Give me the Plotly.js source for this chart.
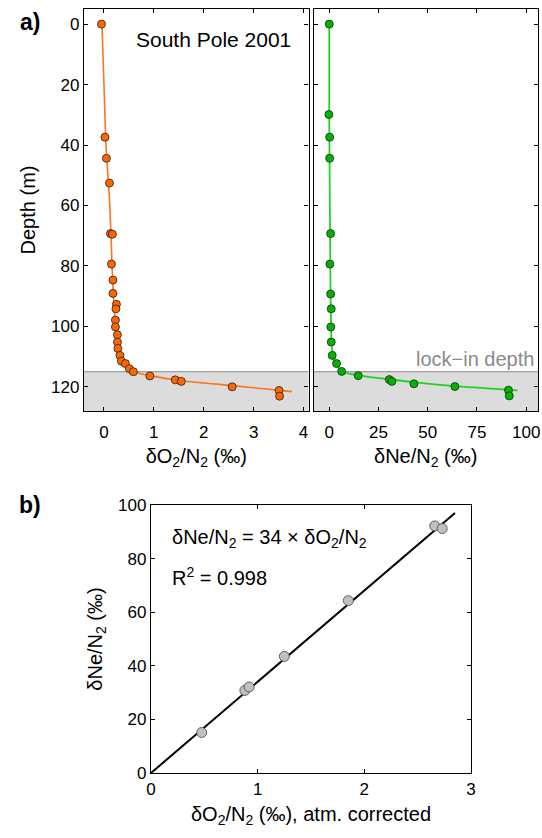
<!DOCTYPE html>
<html>
<head>
<meta charset="utf-8">
<script src="https://cdn.plot.ly/plotly-3.0.1.min.js"></script>
<style>html,body{margin:0;padding:0;background:#fff;}#chart{width:542px;height:838px;}</style>
</head>
<body>
<div id="chart"></div>
<script>
// ---- Panel a) left: dO2/N2 vs depth ----
const depthO2 = [0, 37.4, 44.4, 52.6, 69.3, 69.5, 79.4, 84.7, 89.1, 92.7, 94.2, 97.9, 100.2, 102.8, 105.2, 107.3, 109.6, 111.5, 112.3, 114.0, 115.0, 116.4, 117.7, 118.2, 120.0, 121.2, 123.1];
const dO2N2 = [-0.05, 0.02, 0.05, 0.11, 0.13, 0.17, 0.15, 0.18, 0.18, 0.25, 0.24, 0.23, 0.23, 0.27, 0.27, 0.28, 0.32, 0.35, 0.43, 0.51, 0.59, 0.92, 1.43, 1.55, 2.57, 3.51, 3.52];
// model curve
const o2CurveX = [-0.04, 0.0, 0.04, 0.08, 0.11, 0.14, 0.16, 0.19, 0.23, 0.26, 0.32, 0.42, 0.52, 0.63, 0.92, 1.5, 2.57, 3.77];
const o2CurveD = [0, 20, 40, 50, 58, 69, 79, 90, 100, 105, 110, 112.5, 114, 115.2, 116.3, 117.9, 119.6, 121.6];

// ---- Panel a) right: dNe/N2 vs depth ----
const depthNe = [0, 29.9, 37.4, 44.4, 69.3, 79.4, 89.3, 94.2, 100.2, 105.2, 109.6, 112.3, 114.9, 116.3, 117.6, 118.2, 119.0, 119.9, 121.1, 123.0];
const dNeN2 = [0, -0.2, 0.2, 0.2, 0.7, 0.3, 0.7, 1.0, 0.8, 1.0, 1.5, 3.7, 6.3, 14.7, 30.5, 31.8, 43.0, 63.8, 91.0, 91.4];
const neCurveX = [0, 0, 0.3, 0.6, 0.9, 1.5, 3.5, 6.5, 15, 30, 45, 64, 95.6];
const neCurveD = [0, 30, 60, 85, 100, 108, 112.3, 114.9, 116.2, 117.5, 118.6, 119.8, 121.2];

const lockInDepth = 115;
const depthTicks = [0, 20, 40, 60, 80, 100, 120];
const o2Ticks = [0, 1, 2, 3, 4];
const neTicks = [0, 25, 50, 75, 100];

// ---- Panel b) ----
const o2Corr = [0.475, 0.88, 0.92, 1.25, 1.85, 2.66, 2.73];
const neB = [15.1, 30.8, 32.1, 43.5, 64.3, 92.2, 91.2];
const fitX = [0, 2.85];
const fitY = [0, 97];
const bXTicks = [0, 1, 2, 3];
const bYTicks = [0, 20, 40, 60, 80, 100];

const FONT = 'Liberation Sans, Arial, Helvetica, sans-serif';
const orange = '#ff6600', orangeLine = '#ff7420';
const green = '#00b400', greenLine = '#22d422';

const traces = [
  {x: o2CurveX, y: o2CurveD, xaxis: 'x', yaxis: 'y', mode: 'lines', line: {color: orangeLine, width: 1.6, shape: 'spline', smoothing: 0.6}, hoverinfo: 'skip'},
  {x: dO2N2, y: depthO2, xaxis: 'x', yaxis: 'y', mode: 'markers', marker: {size: 8, color: orange, line: {color: '#222', width: 0.8}}},
  {x: neCurveX, y: neCurveD, xaxis: 'x2', yaxis: 'y2', mode: 'lines', line: {color: greenLine, width: 1.8, shape: 'spline', smoothing: 0.6}, hoverinfo: 'skip'},
  {x: dNeN2, y: depthNe, xaxis: 'x2', yaxis: 'y2', mode: 'markers', marker: {size: 8, color: green, line: {color: '#222', width: 0.8}}},
  {x: fitX, y: fitY, xaxis: 'x3', yaxis: 'y3', mode: 'lines', line: {color: '#000', width: 2}},
  {x: o2Corr, y: neB, xaxis: 'x3', yaxis: 'y3', mode: 'markers', marker: {size: 10, color: '#c0c0c0', line: {color: '#444', width: 0.8}}}
];

const axBase = {
  showgrid: false, zeroline: false, showline: true, linecolor: '#000', linewidth: 1.4,
  mirror: 'ticks', ticks: 'inside', ticklen: 4, tickwidth: 1, tickcolor: '#000',
  tickfont: {family: FONT, size: 17, color: '#000'}, fixedrange: true
};

const layout = {
  width: 542, height: 838,
  margin: {l: 0, r: 0, t: 0, b: 0},
  paper_bgcolor: '#fff', plot_bgcolor: 'rgba(0,0,0,0)',
  showlegend: false,
  font: {family: FONT, color: '#000'},
  xaxis: Object.assign({}, axBase, {domain: [84/542, 308.5/542], anchor: 'y', range: [-0.4, 4.1], tickvals: o2Ticks, ticklabelstandoff: 5,
    title: {text: 'δO<sub>2</sub>/N<sub>2</sub> (‰)', font: {family: FONT, size: 20}, standoff: 8}}),
  yaxis: Object.assign({}, axBase, {domain: [1 - 411/838, 1 - 9/838], anchor: 'x', range: [128, -5], tickvals: depthTicks,
    title: {text: 'Depth (m)', font: {family: FONT, size: 20}, standoff: 10}}),
  xaxis2: Object.assign({}, axBase, {domain: [313.5/542, 538/542], anchor: 'y2', range: [-8, 106], tickvals: neTicks, ticklabelstandoff: 5,
    title: {text: 'δNe/N<sub>2</sub> (‰)', font: {family: FONT, size: 20}, standoff: 8}}),
  yaxis2: Object.assign({}, axBase, {domain: [1 - 411/838, 1 - 9/838], anchor: 'x2', range: [128, -5], tickvals: depthTicks, showticklabels: false}),
  xaxis3: Object.assign({}, axBase, {domain: [151/542, 471/542], anchor: 'y3', range: [0, 3], tickvals: bXTicks, linewidth: 1.3,
    title: {text: 'δO<sub>2</sub>/N<sub>2</sub> (‰), atm. corrected', font: {family: FONT, size: 20}, standoff: 9}}),
  yaxis3: Object.assign({}, axBase, {domain: [1 - 773/838, 1 - 505/838], anchor: 'x3', range: [0, 100], tickvals: bYTicks, linewidth: 1.3,
    title: {text: 'δNe/N<sub>2</sub> (‰)', font: {family: FONT, size: 20}, standoff: 10}}),
  shapes: [
    {type: 'rect', xref: 'x domain', yref: 'y', x0: 0, x1: 1, y0: lockInDepth, y1: 128, fillcolor: '#dcdcdc', line: {width: 0}, layer: 'below'},
    {type: 'rect', xref: 'x2 domain', yref: 'y2', x0: 0, x1: 1, y0: lockInDepth, y1: 128, fillcolor: '#dcdcdc', line: {width: 0}, layer: 'below'},
    {type: 'line', xref: 'x domain', yref: 'y', x0: 0, x1: 1, y0: lockInDepth, y1: lockInDepth, line: {color: '#8a8a8a', width: 1}, layer: 'below'},
    {type: 'line', xref: 'x2 domain', yref: 'y2', x0: 0, x1: 1, y0: lockInDepth, y1: lockInDepth, line: {color: '#8a8a8a', width: 1}, layer: 'below'}
  ],
  annotations: [
    {text: 'South Pole 2001', xref: 'paper', yref: 'paper', x: 213/542, y: 1 - 40/838, xanchor: 'center', yanchor: 'middle', showarrow: false, font: {family: FONT, size: 21, color: '#000'}},
    {text: 'lock−in depth', xref: 'x2 domain', yref: 'y2', x: 0.99, y: lockInDepth, xanchor: 'right', yanchor: 'bottom', showarrow: false, font: {family: FONT, size: 20, color: '#8a8a8a'}},
    {text: '<b>a)</b>', xref: 'paper', yref: 'paper', x: 30/542, y: 1 - 22/838, xanchor: 'center', yanchor: 'middle', showarrow: false, font: {family: FONT, size: 23, color: '#000'}},
    {text: '<b>b)</b>', xref: 'paper', yref: 'paper', x: 30/542, y: 1 - 505/838, xanchor: 'center', yanchor: 'middle', showarrow: false, font: {family: FONT, size: 23, color: '#000'}},
    {text: 'δNe/N<sub>2</sub> = 34 × δO<sub>2</sub>/N<sub>2</sub>', xref: 'paper', yref: 'paper', x: 170/542, y: 1 - 538/838, xanchor: 'left', yanchor: 'middle', showarrow: false, font: {family: FONT, size: 20, color: '#000'}},
    {text: 'R<sup>2</sup> = 0.998', xref: 'paper', yref: 'paper', x: 170/542, y: 1 - 576/838, xanchor: 'left', yanchor: 'middle', showarrow: false, font: {family: FONT, size: 20, color: '#000'}}
  ]
};

Plotly.newPlot('chart', traces, layout, {displayModeBar: false});
</script>
</body>
</html>
